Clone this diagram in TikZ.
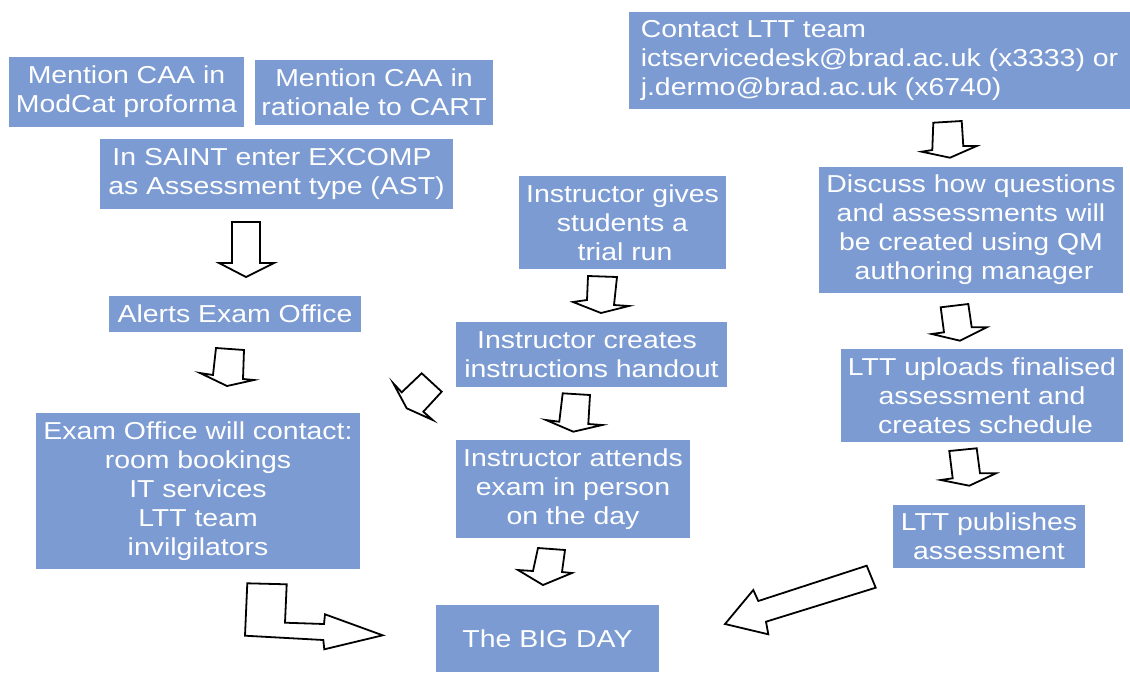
\documentclass[tikz,border=0pt]{standalone}
\usepackage{fontspec}
\setmainfont{Liberation Sans}[FakeStretch=1.16]
\definecolor{boxblue}{RGB}{123,155,210}
\begin{document}
\begin{tikzpicture}[x=1pt,y=-1pt,
  box/.style={rectangle, fill=boxblue, text=white, inner sep=0pt, align=center,
    font=\fontsize{24.5}{29}\selectfont},
  blockarrow/.style={draw=black, fill=white, line width=1.8pt, line join=miter}]
\useasboundingbox (0,0) rectangle (1130,673);

% process boxes
\node[box, minimum width=235pt, minimum height=70pt] (modcat) at (126.5,92) {Mention CAA in\\ModCat proforma};
\node[box, minimum width=238pt, minimum height=65pt] (cart) at (374,92.5) {Mention CAA in\\rationale to CART};
\node[box, minimum width=353pt, minimum height=70pt] (saint) at (276.5,174) {In SAINT enter EXCOMP\hspace*{9pt}\\as Assessment type (AST)};
\node[box, align=left, minimum width=501pt, minimum height=97pt] (contact) at (879.5,60.5) {Contact LTT team\\ictservicedesk@brad.ac.uk (x3333) or\\j.dermo@brad.ac.uk (x6740)};
\node[box, minimum width=207pt, minimum height=93pt] (trial) at (622.5,222.5) {Instructor gives\\students a\\\hspace*{5pt}trial run};
\node[box, minimum width=304pt, minimum height=126pt] (discuss) at (971,230) {Discuss how questions\\and assessments will\\be created using QM\\\hspace*{6pt}authoring manager};
\node[box, minimum width=252pt, minimum height=36pt] (alerts) at (235,314) {Alerts Exam Office};
\node[box, minimum width=271pt, minimum height=65pt] (handout) at (591.5,354.5) {Instructor creates\hspace*{9pt}\\instructions handout};
\node[box, minimum width=282pt, minimum height=93pt] (uploads) at (982,395.5) {LTT uploads finalised\\assessment and\\\hspace*{7pt}creates schedule};
\node[box, minimum width=324pt, minimum height=156pt] (examoffice) at (198,491) {Exam Office will contact:\\room bookings\\IT services\\LTT team\\invilgilators};
\node[box, minimum width=234pt, minimum height=98pt] (attends) at (573,489) {Instructor attends\\exam in person\\on the day};
\node[box, minimum width=192pt, minimum height=63pt] (publishes) at (989,536.5) {LTT publishes\\assessment};
\node[box, minimum width=223pt, minimum height=67pt] (bigday) at (547.5,638.5) {The BIG DAY};

% block arrows
\draw[blockarrow] (232,222) -- (260,222) -- (260,263) -- (274,263) -- (246,277) -- (219,263) -- (232,263) -- cycle;
\draw[blockarrow] (216,348) -- (244,350) -- (243,379) -- (254,380) -- (227,386) -- (200,373) -- (213,375) -- cycle;
\draw[blockarrow] (401.7,392.3) -- (421.7,373.3) -- (441.7,391.7) -- (423.3,411.7) -- (432.7,420) -- (406.7,408.3) -- (393.3,383.3) -- cycle;
\draw[blockarrow] (247.3,583.3) -- (286.7,584.3) -- (285,622.7) -- (324,624) -- (325,614.3) -- (382.7,635.3) -- (324.3,649.3) -- (323.3,640) -- (245,635.7) -- cycle;
\draw[blockarrow] (866.7,565.7) -- (875.7,587.7) -- (766,621.7) -- (768.3,634.3) -- (725,624) -- (753.3,590) -- (758.3,601) -- cycle;
\draw[blockarrow] (933.3,122.7) -- (961.7,121) -- (963.3,146) -- (976.7,146) -- (950,157.7) -- (921.7,151.7) -- (932.3,150) -- cycle;
\draw[blockarrow] (588,276) -- (617,277) -- (614,305) -- (629,306) -- (601,313) -- (573,302) -- (587,300) -- cycle;
\draw[blockarrow] (562.7,393.3) -- (590,395) -- (588.3,424) -- (602.3,425) -- (573.3,431.7) -- (546,420) -- (559.3,421.7) -- cycle;
\draw[blockarrow] (940.7,307.3) -- (968.3,304) -- (971.7,327.3) -- (986.7,327.3) -- (960,340.7) -- (931.7,334) -- (944,332.3) -- cycle;
\draw[blockarrow] (949.3,451) -- (976.7,448.3) -- (980,473.3) -- (996,473.3) -- (969.3,485.7) -- (940.7,480) -- (952.7,478.3) -- cycle;
\draw[blockarrow] (538,548) -- (565,550) -- (562,572) -- (572,573) -- (543,585) -- (518,570) -- (533,571) -- cycle;
\end{tikzpicture}
\end{document}
